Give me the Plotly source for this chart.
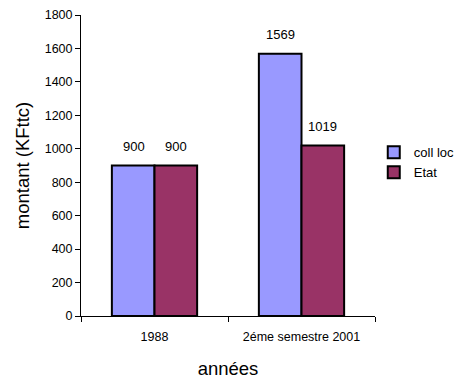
import plotly.graph_objects as go

categories = ["1988", "2éme semestre 2001"]
coll_loc = [900, 1569]
etat = [900, 1019]
series_names = ["coll loc", "Etat"]
series_colors = ["#9999FF", "#993366"]
y_ticks = list(range(0, 1801, 200))

FONT = "Liberation Sans, Arial, sans-serif"

fig = go.Figure()
for name, vals, col in zip(series_names, [coll_loc, etat], series_colors):
    fig.add_trace(go.Bar(
        x=categories, y=vals, name=name,
        marker=dict(color=col, line=dict(color="black", width=2)),
    ))

# value labels above each bar (x given as category index)
for i, vals in enumerate([coll_loc, etat]):
    shift = -21 if i == 0 else 21
    for ci, v in enumerate(vals):
        fig.add_annotation(
            x=ci, y=v, text=str(v), showarrow=False,
            xshift=shift, yshift=19, yanchor="middle",
            font=dict(family=FONT, size=13, color="black"),
        )

fig.update_layout(
    width=462, height=383,
    margin=dict(l=81, r=87, t=15, b=67, autoexpand=False),
    paper_bgcolor="white", plot_bgcolor="white",
    barmode="group", bargap=0.42, bargroupgap=0,
    font=dict(family=FONT, color="black"),
    legend=dict(
        xref="container", yref="container",
        x=0.809, y=0.576, xanchor="left", yanchor="middle",
        font=dict(family=FONT, size=13, color="black"),
        itemwidth=30,
    ),
    xaxis=dict(
        type="category", range=[-0.5, 1.5],
        title=dict(text="années", font=dict(size=18.5), standoff=19),
        showline=True, linecolor="black", linewidth=1,
        ticks="outside", tickson="boundaries", ticklen=5, tickcolor="black",
        tickfont=dict(size=12.5), showgrid=False, tickangle=0,
        ticklabelstandoff=9,
    ),
    yaxis=dict(
        title=dict(text="montant (KFttc)", font=dict(size=18.5), standoff=10),
        range=[0, 1800], tickvals=y_ticks,
        showline=True, linecolor="black", linewidth=1,
        ticks="outside", ticklen=5, tickcolor="black",
        tickfont=dict(size=12.5), showgrid=False, zeroline=False,
    ),
)

fig.write_html("out.html")
